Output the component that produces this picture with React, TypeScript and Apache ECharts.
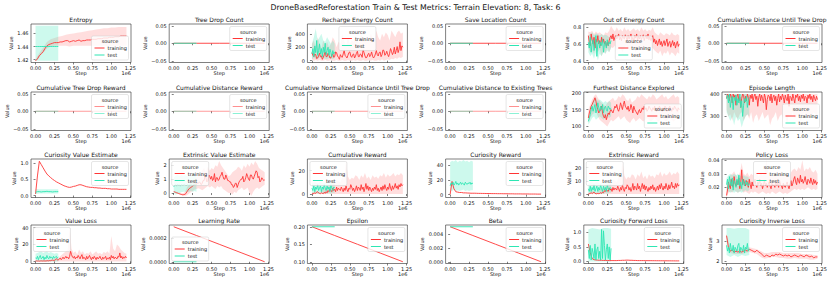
import React, { useEffect, useRef } from 'react';
import * as echarts from 'echarts';

const FONT = '"DejaVu Sans", "Liberation Sans", sans-serif';
const RED = '#ff3535';
const TEAL = '#2ee6b3';
const RED_FILL = 'rgba(255, 60, 60, 0.17)';
const TEAL_FILL = 'rgba(46, 230, 179, 0.24)';
const TEXT = '#111111';

const SUPTITLE = 'DroneBasedReforestation Train & Test Metrics: Terrain Elevation: 8, Task: 6';
const TRAIN_END_STEP = 1200000;
const TEST_END_STEP = 300000;
const X_TICKS = [0, 250000, 500000, 750000, 1000000, 1250000];

// ---------- data ----------
const zeroTicks = [-0.05, 0, 0.05];

const entropyTrain = [1.418,1.421,1.426,1.429,1.432,1.437,1.441,1.443,1.444,1.445,1.446,1.446,1.446,1.447,1.447,1.448,1.449,1.449,1.447,1.448,1.449,1.448,1.449,1.450,1.448,1.449,1.449,1.450,1.450,1.450,1.451,1.451,1.451,1.452,1.452,1.452,1.453,1.453,1.453,1.454,1.454,1.454,1.455,1.455,1.455,1.456,1.456,1.456,1.456];
const entropyTrainLo = [1.417,1.424,1.430,1.437,1.440,1.441,1.441,1.441,1.441,1.440,1.441,1.441,1.441,1.441,1.441,1.441,1.441,1.441,1.441,1.441,1.441,1.441,1.441,1.441,1.441];
const entropyTrainHi = [1.420,1.430,1.438,1.447,1.451,1.453,1.455,1.456,1.458,1.459,1.460,1.461,1.462,1.463,1.464,1.465,1.466,1.467,1.468,1.468,1.469,1.469,1.470,1.470,1.470];
const entropyTest = [1.440,1.440,1.440,1.440,1.440,1.440,1.440,1.440,1.440,1.440,1.440,1.440,1.440];
const entropyTestLo = [1.418,1.418,1.418,1.418,1.418,1.418,1.418];
const entropyTestHi = [1.472,1.472,1.472,1.472,1.472,1.472,1.472];
const entropyTicks = [1.42, 1.44, 1.46];

const treeDropTrain = [0, 0, 0, 0, 0];
const treeDropTest = [0, 0];

const rechargeTrain = [120,80,60,100,90,30,40,70,110,60, 70,20,50,90,130,60,60,110,80,40, 40,90,100,50,60,130,120,70,50,20, 90,60,50,100,150,80,60,40,80,120, 130,70,50,90,100,40,70,110,140,60, 60,100,90,50,160,120,70,40,50,90, 110,60,80,130,70,40,60,100,150,90, 70,120,130,60,90,160,150,80,100,140, 90,60,110,180,140,90,120,200,100,150, 210,120,170,280,150,220,200];
const rechargeTrainLo = [20,0,10,0,10,0,0,10,0,0, 10,0,0,10,0,0,10,0,0,10, 0,0,10,0,10,0,0,10,0,0, 10,0,10,0,0,10,0,20,0,10, 20,10,30,20,40,30,50,40,60];
const rechargeTrainHi = [250,300,200,350,250,180,300,220,280,200, 250,350,300,200,280,250,400,300,220,350, 250,300,280,350,300,250,400,300,350,280, 300,400,350,300,450,350,300,400,350,420, 380,300,450,400,350,420,450,400,420];
const rechargeTest = [100,180,60,220,120,300,80,150,250,100,180,60,200,120,260,90,150,200,80,170,120,60,150,100,130];
const rechargeTestLo = [20,40,30,20,50,30,40,30,20,40,30,20,40];
const rechargeTestHi = [250,350,480,300,350,400,300,280,350,300,250,300,250];
const rechargeTicks = [0, 200, 400];

const saveLocationTrain = [0, 0, 0, 0, 0];
const saveLocationTest = [0, 0];

const outOfEnergyTrain = [0.70,0.62,0.58,0.72,0.65,0.60,0.68,0.55,0.66,0.62, 0.70,0.60,0.64,0.58,0.68,0.62,0.66,0.60,0.63,0.57, 0.62,0.58,0.64,0.68,0.70,0.66,0.72,0.64,0.68,0.70, 0.66,0.69,0.72,0.65,0.68,0.64,0.70,0.67,0.66,0.71, 0.68,0.64,0.70,0.66,0.69,0.72,0.65,0.68,0.63,0.70, 0.67,0.72,0.64,0.69,0.66,0.70,0.65,0.68,0.71,0.64, 0.68,0.70,0.66,0.72,0.65,0.69,0.64,0.67,0.70,0.62, 0.66,0.60,0.64,0.58,0.62,0.66,0.59,0.63,0.57,0.61, 0.64,0.58,0.62,0.66,0.57,0.61,0.63,0.56,0.60,0.64, 0.58,0.62,0.55,0.60,0.63,0.57,0.60];
const outOfEnergyTrainLo = [0.55,0.50,0.52,0.48,0.55,0.50,0.54,0.45,0.52,0.48, 0.55,0.50,0.56,0.55,0.58,0.52,0.56,0.55,0.50,0.56, 0.58,0.55,0.52,0.57,0.55,0.50,0.56,0.58,0.55,0.52, 0.57,0.55,0.50,0.56,0.55,0.52,0.50,0.48,0.52,0.45, 0.50,0.48,0.52,0.46,0.50,0.48,0.45,0.50,0.48];
const outOfEnergyTrainHi = [0.75,0.74,0.76,0.72,0.75,0.73,0.74,0.72,0.70,0.74, 0.73,0.76,0.82,0.78,0.75,0.80,0.76,0.78,0.75,0.80, 0.76,0.78,0.75,0.77,0.79,0.76,0.78,0.75,0.80,0.76, 0.78,0.75,0.77,0.76,0.80,0.74,0.72,0.70,0.74,0.72, 0.70,0.73,0.72,0.70,0.74,0.71,0.70,0.72,0.70];
const outOfEnergyTest = [0.62,0.55,0.68,0.50,0.60,0.65,0.52,0.58,0.70,0.45,0.60,0.64,0.55,0.62,0.58,0.66,0.50,0.60,0.63,0.55,0.65,0.58,0.62,0.60,0.64];
const outOfEnergyTestLo = [0.50,0.45,0.48,0.42,0.50,0.40,0.48,0.45,0.50,0.48,0.52,0.50,0.55];
const outOfEnergyTestHi = [0.70,0.72,0.74,0.70,0.73,0.72,0.70,0.72,0.70,0.71,0.70,0.68,0.70];
const outOfEnergyTicks = [0.4, 0.6, 0.8];

const cumDistUntilTrain = [0, 0, 0, 0, 0];
const cumDistUntilTest = [0, 0];
const cumTreeDropRewardTrain = [0, 0, 0, 0, 0];
const cumTreeDropRewardTest = [0, 0];
const cumDistRewardTrain = [0, 0, 0, 0, 0];
const cumDistRewardTest = [0, 0];
const cumNormDistTrain = [0, 0, 0, 0, 0];
const cumNormDistTest = [0, 0];
const cumDistExistingTrain = [0, 0, 0, 0, 0];
const cumDistExistingTest = [0, 0];

const furthestTrain = [125,140,150,160,165,172,178,185,175,160, 150,140,145,150,160,140,130,125,135,120, 130,140,135,145,150,145,140,150,160,155, 165,150,145,155,170,160,150,165,175,160, 155,150,160,145,150,165,155,140,160,150, 145,140,135,145,150,140,145,155,150,160, 150,155,145,150,160,155,150,145,155,150, 160,150,145,155,150,160,155,150,145,155, 150,160,155,145,150,155,160,150,145,155, 150,160,155,150,145,155,150];
const furthestTrainLo = [110,125,135,140,145,130,120,115,110,105, 100,110,120,115,120,125,130,120,125,130, 120,115,110,120,125,115,120,125,120,115, 120,125,120,115,120,125,120,115,120,125, 120,115,120,125,120,115,120,125,120];
const furthestTrainHi = [150,165,180,190,195,185,175,170,165,160, 170,175,180,185,175,180,190,185,195,190, 180,175,185,170,175,180,190,185,195,190, 185,180,190,185,195,190,180,185,190,195, 185,190,180,185,190,195,185,190,185];
const furthestTest = [115,125,135,150,160,145,155,165,140,150,170,155,145,160,150,165,140,155,160,150,145,160,155,150,155];
const furthestTestLo = [105,115,125,130,120,125,130,125,120,125,130,125,130];
const furthestTestHi = [125,150,170,180,185,175,180,175,170,175,170,175,170];
const furthestTicks = [100, 150, 200];

const episodeTrain = [380,400,395,370,400,390,360,400,385,395, 350,390,400,370,385,340,380,400,395,360, 390,370,400,385,350,395,380,400,365,390, 400,375,390,345,385,400,370,395,380,360, 400,385,330,375,395,390,370,400,360,385, 395,370,390,350,380,400,365,390,375,400, 385,360,395,380,370,400,345,390,385,370, 400,380,360,395,385,400,370,390,365,395, 380,400,370,390,385,360,395,380,400,375, 390,365,395,380,370,390,375];
const episodeTrainLo = [330,300,310,280,320,300,290,310,320,280, 300,310,290,320,270,300,310,280,300,320, 290,300,310,260,290,300,320,280,300,310, 290,300,270,310,300,320,290,300,310,280, 300,320,300,290,310,300,320,310,300];
const episodeTrainHi = [400,400,400,400,400,400,400,400,400,400, 400,400,400,400,400,400,400,400,400,400, 400,400,400,400,400,400,400,400,400,400, 400,400,400,400,400,400,400,400,400,400, 400,400,400,400,400,400,400,400,400];
const episodeTest = [380,395,360,400,340,375,390,330,385,370,395,350,380,360,400,340,370,300,350,380,365,390,340,375,385];
const episodeTestLo = [320,300,280,300,260,300,280,290,250,280,300,310,300];
const episodeTestHi = [400,400,400,400,400,400,400,400,400,400,400,400,400];
const episodeTicks = [300, 400];

const curValueTrain = [0.05,0.60,1.05,0.95,0.85,0.75,0.66,0.60,0.55,0.50,0.46,0.42,0.39,0.36,0.33,0.30,0.28,0.26,0.25,0.26,0.28,0.29,0.31,0.33,0.33,0.31,0.29,0.27,0.26,0.25,0.25,0.24,0.24,0.23,0.23,0.22,0.22,0.22,0.21,0.21,0.20,0.20,0.20,0.20,0.19,0.19,0.19,0.19,0.19];
const curValueTest = [0.10,0.12,0.12,0.11,0.12,0.12,0.13,0.12,0.12,0.11,0.12,0.12,0.12];
const curValueTestLo = [0.05,0.06,0.06,0.06,0.06,0.06,0.06];
const curValueTestHi = [0.20,0.19,0.19,0.19,0.19,0.19,0.19];
const curValueTicks = [0, 0.5, 1.0];

const extValueTrain = [0.10,0.08,0.05,0.02,0.00,-0.03,-0.05,-0.08,-0.10,-0.12, -0.12,-0.10,-0.10,0.00,0.10,0.20,0.30,0.35,0.40,0.45, 0.50,0.55,0.60,0.65,0.65,0.70,0.70,0.80,0.75,0.60, 0.70,0.90,0.90,1.20,1.10,0.80,0.90,1.30,1.20,1.00, 1.20,0.90,1.00,1.40,0.80,1.10,1.10,0.90,1.00,1.20, 1.30,1.50,1.20,1.00,1.00,1.30,1.10,0.90,0.90,0.80, 0.80,0.60,0.60,0.40,0.50,0.70,0.70,0.40,0.60,0.80, 0.90,1.00,1.00,1.20,0.80,0.90,1.10,1.40,1.20,1.00, 0.90,1.30,1.30,1.10,1.00,1.20,1.40,1.60,1.50,1.10, 1.20,0.80,0.90,1.10,1.00,0.90,0.95];
const extValueTrainLo = [0.05,0.02,-0.05,-0.10,-0.15,-0.20,-0.20,-0.15,-0.05,0.05, 0.15,0.25,0.30,0.35,0.30,0.20,0.30,0.40,0.50,0.40, 0.50,0.40,0.30,0.50,0.40,0.50,0.30,0.20,0.10,0.00, 0.00,-0.10,0.10,0.00,0.20,0.30,0.40,0.20,0.30,0.40, 0.00,-0.20,0.10,0.30,0.40,0.30,0.40,0.50,0.60];
const extValueTrainHi = [0.15,0.10,0.05,0.02,0.00,-0.02,0.10,0.40,0.60,0.80, 0.90,1.00,1.10,1.20,1.40,1.60,1.80,1.50,1.90,1.60, 1.80,1.70,2.00,1.90,2.30,2.00,1.80,1.60,1.40,1.20, 1.30,1.50,1.60,1.70,1.90,1.80,1.60,2.00,1.80,2.10, 1.90,2.20,2.00,2.30,2.10,1.80,1.70,1.60,1.50];
const extValueTest = [0.45,0.55,0.60,0.50,0.65,0.55,0.60,0.50,0.62,0.58,0.55,0.65,0.60,0.52,0.58,0.62,0.55,0.60,0.65,0.58,0.55,0.62,0.60,0.58,0.60];
const extValueTestLo = [0.00,-0.10,-0.05,0.00,0.05,0.10,0.10,0.05,0.10,0.15,0.10,0.15,0.10];
const extValueTestHi = [1.10,1.25,1.30,1.20,1.30,1.25,1.30,1.20,1.25,1.30,1.20,1.25,1.20];
const extValueTicks = [0, 1, 2];

const cumRewardTrain = [0,0.5,0.3,1,0.5,1.5,2,1,0.5,0.3, 1,0.5,0.3,1.5,0.5,2,1,3,2,4, 3,2,5,3,4,2,6,3,5,4, 3,6,4,2,5,3,7,4,2,5, 4,8,6,3,5,2,4,7,3,6, 5,3,8,4,6,2,5,9,4,7, 3,6,4,2,5,3,6,4,8,3, 5,2,4,6,3,7,4,8,5,3, 6,4,9,5,3,7,4,6,9,5, 7,4,8,6,9,7,8];
const cumRewardTrainLo = [0,0,0,0,0,0,0,0,0,0, 0,0,0,0,0,0,0,0,0,0, 0,0,0,0,0,0,0,0,0,0, 0,0,0,0,0,0,0,0,0,0, 0,0,0,0,0,0,0,0,0];
const cumRewardTrainHi = [1,2,3,2,1,3,4,6,5,8, 7,10,9,12,11,10,14,13,28,15, 12,14,13,16,15,12,16,14,18,13, 15,12,16,14,15,13,16,15,18,14, 17,15,16,18,15,17,16,18,16];
const cumRewardTest = [5,3,7,2,6,4,8,3,5,7,2,6,4,8,5,3,7,4,6,2,8,5,3,6,5];
const cumRewardTestLo = [1,0,1,0,0,1,0,1,0,1,0,1,1];
const cumRewardTestHi = [9,10,10,9,10,10,9,10,10,9,10,9,9];
const cumRewardTicks = [0, 20];

const curRewardTrain = [0.5,18,8,4,3.5,3,3,2.5,2.5,2.3,2.2,2,2,2,1.9,1.8,1.8,1.7,1.7,1.6,1.6,1.6,1.5,1.5,1.5,1.4,1.4,1.4,1.3,1.3,1.3,1.2,1.2,1.2,1.1,1.1,1.1,1.1,1.0,1.0,1.0,1.0,0.9,0.9,0.9,0.9,0.8,0.8,0.8];
const curRewardTest = [12,16,14,17,13,15,18,14,16,13,15,17,14,16,15,13,17,15,14,16,15,17,14,16,15];
const curRewardTestLo = [6,5,7,5,6,5,6,7,5,6,5,6,6];
const curRewardTestHi = [44,46,45,47,44,46,45,47,45,46,44,46,45];
const curRewardTicks = [0, 20, 40];

const extRewardTrain = [0,0.3,0.5,1,0.3,1,1.5,0.5,0.3,0.2, 0.5,0.3,0.5,1,0.5,1.5,1,2.5,2,3.5, 2.5,2,4.5,3,4,2,5,3,4.5,4, 3,6,4,2,5,3,7,4,2,5, 4,7,6,3,5,2,4,8,3,6, 5,3,8,4,6,2,5,8,4,7, 3,6,4,2,5,3,6,4,7,3, 5,2,4,6,3,7,4,8,5,3, 6,4,8,5,3,7,4,6,9,5, 6,4,8,5,8,6,7];
const extRewardTrainLo = [0,0,0,0,0,0,0,0,0,0, 0,0,0,0,0,0,0,0,0,0, 0,0,0,0,0,0,0,0,0,0, 0,0,0,0,0,0,0,0,0,0, 0,0,0,0,0,0,0,0,0];
const extRewardTrainHi = [1,2,3,2,1,2,3,5,4,7, 6,9,8,11,10,9,13,12,25,14, 11,13,12,15,14,11,15,13,17,12, 14,11,15,13,14,12,15,14,17,13, 16,14,15,17,14,16,15,17,15];
const extRewardTest = [4,2,6,2,5,3,7,2,4,6,2,5,3,7,4,2,6,3,5,2,7,4,3,5,4];
const extRewardTestLo = [0,0,1,0,0,1,0,0,0,1,0,1,1];
const extRewardTestHi = [8,9,9,8,9,9,8,9,9,8,9,8,8];
const extRewardTicks = [0, 10, 20];

const policyTrain = [0.014,0.018,0.024,0.021,0.019,0.026,0.022,0.020,0.028,0.023, 0.021,0.025,0.022,0.027,0.019,0.024,0.033,0.022,0.026,0.023, 0.021,0.025,0.024,0.020,0.026,0.022,0.019,0.024,0.021,0.023, 0.026,0.022,0.020,0.024,0.022,0.026,0.021,0.023,0.019,0.022, 0.025,0.021,0.023,0.020,0.022,0.024,0.021,0.019,0.023,0.021, 0.022,0.020,0.024,0.021,0.023,0.020,0.025,0.022,0.021,0.019, 0.023,0.021,0.020,0.022,0.024,0.021,0.019,0.022,0.025,0.021, 0.023,0.026,0.028,0.024,0.022,0.027,0.025,0.023,0.029,0.024, 0.026,0.023,0.025,0.028,0.024,0.022,0.026,0.025,0.023,0.027, 0.024,0.022,0.026,0.023,0.025,0.022,0.024];
const policyTrainLo = [0.012,0.016,0.017,0.016,0.018,0.017,0.016,0.017,0.018,0.016, 0.017,0.016,0.015,0.017,0.016,0.017,0.016,0.015,0.016,0.017, 0.016,0.015,0.016,0.015,0.017,0.016,0.015,0.016,0.017,0.016, 0.015,0.016,0.015,0.016,0.017,0.018,0.019,0.018,0.019,0.018, 0.019,0.018,0.019,0.020,0.019,0.018,0.019,0.018,0.019];
const policyTrainHi = [0.018,0.026,0.029,0.030,0.032,0.029,0.027,0.031,0.038,0.030, 0.029,0.031,0.028,0.030,0.029,0.032,0.030,0.028,0.031,0.029, 0.030,0.040,0.031,0.029,0.030,0.028,0.031,0.029,0.030,0.032, 0.029,0.031,0.030,0.028,0.031,0.033,0.034,0.032,0.035,0.033, 0.040,0.032,0.034,0.033,0.035,0.032,0.031,0.033,0.030];
const policyTest = [0.022,0.026,0.019,0.028,0.024,0.021,0.027,0.018,0.025,0.023,0.020,0.026,0.022,0.029,0.021,0.024,0.019,0.026,0.023,0.021,0.025,0.022,0.024,0.021,0.023];
const policyTestLo = [0.018,0.017,0.016,0.017,0.016,0.017,0.016,0.017,0.016,0.017,0.018,0.017,0.018];
const policyTestHi = [0.027,0.029,0.030,0.029,0.030,0.029,0.030,0.029,0.028,0.029,0.028,0.028,0.027];
const policyTicks = [0.02, 0.03, 0.04];

const valueLossTrain = [0.5,0.6,0.4,0.5,0.3,0.5,0.6,0.4,0.5,0.6, 0.4,0.5,0.6,0.8,0.5,1,0.8,1.2,1.5,1, 1.2,2,3,2,1.5,3,4,2,3,5, 3,4,6,4,5,3,6,12,8,5, 4,6,3,5,4,7,5,3,6,8, 3,5,4,2,6,3,5,7,4,2, 5,3,6,4,2,5,3,4,6,3, 2,5,3,4,6,2,4,3,5,2, 7,4,6,3,5,4,3,6,5,10, 4,6,3,5,4,6,4];
const valueLossTrainLo = [0,0,0,0,0,0,0,0,0,0, 0,0,0,0,0,0,0,0,0,0, 0,0,0,0,0,0,0,0,0,0, 0,0,0,0,0,0,0,0,0,0, 0,0,0,0,0,0,0,0,0];
const valueLossTrainHi = [1,1,1,1,1,1,1.5,2,2,3, 3,5,4,6,8,10,12,14,40,15, 10,12,8,14,10,12,8,10,9,12, 8,10,12,9,10,8,11,10,12,9, 30,15,12,20,18,14,12,10,9];
const valueLossTest = [4,3,6,2,5,7,3,4,6,2,5,3,7,4,3,6,4,5,3,6,4,5,6,4,5];
const valueLossTestLo = [0,0,0,0,0,0,0,0,0,0,0,0,0];
const valueLossTestHi = [9,10,11,12,10,11,12,10,11,10,9,10,9];
const valueLossTicks = [0, 20, 40];

const lrTrain = [0.0003, 0.000225, 0.00015, 0.000075, 0.0];
const lrTest = [0, 0];
const lrTicks = [0, 0.0002];

const epsilonTrain = [0.2, 0.175, 0.15, 0.125, 0.1];
const epsilonTest = [0.2, 0.2];
const epsilonTicks = [0.10, 0.15, 0.20];

const betaTrain = [0.005, 0.00375, 0.0025, 0.00125, 0.0];
const betaTest = [0.005, 0.005];
const betaTicks = [0, 0.002, 0.004];

const fwdLossTrain = [0.60,0.30,0.10,0.06,0.05,0.045,0.04,0.04,0.035,0.035,0.035,0.03,0.03,0.03,0.03,0.03,0.035,0.035,0.04,0.04,0.045,0.045,0.04,0.04,0.035,0.035,0.03,0.03,0.03,0.03,0.028,0.028,0.027,0.027,0.026,0.026,0.025,0.025,0.024,0.024,0.023,0.023,0.022,0.022,0.021,0.021,0.02,0.02,0.02];
const fwdLossTest = [0.40,0.10,0.55,0.05,0.45,0.30,0.10,0.60,0.05,0.40,0.50,0.10,0.35,0.05,1.10,0.10,1.05,0.55,0.05,0.40,0.60,0.10,0.50,0.05,0.45];
const fwdLossTestLo = [0,0,0,0,0,0,0];
const fwdLossTestHi = [1.10,1.15,1.12,1.10,1.15,1.15,1.12];
const fwdLossTicks = [0, 0.5, 1.0];

const invLossTrain = [3.30,2.70,2.50,2.55,2.45,2.50,2.45,2.50,2.45,2.50,2.55,2.50,2.60,2.55,2.50,2.45,2.55,2.45,2.40,2.30,2.20,2.30,2.25,2.20,2.30,2.25,2.35,2.30,2.35,2.30,2.25,2.30,2.25,2.30,2.20,2.25,2.30,2.25,2.20,2.30,2.25,2.20,2.30,2.25,2.20,2.25,2.15,2.20,2.20];
const invLossTrainLo = [3.20,2.40,2.35,2.35,2.35,2.40,2.45,2.40,2.35,2.20,2.10,2.15,2.20,2.20,2.15,2.15,2.10,2.10,2.15,2.10,2.10,2.10,2.05,2.05,2.10];
const invLossTrainHi = [3.40,2.65,2.60,2.60,2.60,2.65,2.70,2.65,2.60,2.50,2.40,2.40,2.45,2.45,2.45,2.40,2.40,2.40,2.40,2.40,2.35,2.35,2.35,2.30,2.30];
const invLossTest = [2.80,2.50,2.70,2.40,2.90,2.60,2.50,2.80,2.40,2.70,2.60,2.50,2.80,2.90,2.40,2.70,2.60,2.50,2.80,2.40,2.70,2.60,2.90,2.50,2.60];
const invLossTestLo = [2.30,2.20,2.30,2.20,2.30,2.25,2.30];
const invLossTestHi = [3.70,3.70,3.65,3.70,3.70,3.70,3.60];
const invLossTicks = [2, 3];

// ---------- panel definitions ----------
type Panel = {
  title: string;
  train: number[];
  test: number[];
  trainLo?: number[];
  trainHi?: number[];
  testLo?: number[];
  testHi?: number[];
  y: [number, number];
  ticks: number[];
  dec: number;
  legend: string;
  faded?: boolean;
};

const ZR: [number, number] = [-0.055, 0.055];

const PANELS: Panel[] = [
  { title: 'Entropy', train: entropyTrain, test: entropyTest, trainLo: entropyTrainLo, trainHi: entropyTrainHi, testLo: entropyTestLo, testHi: entropyTestHi, y: [1.4155, 1.4745], ticks: entropyTicks, dec: 2, legend: 'lr' },
  { title: 'Tree Drop Count', train: treeDropTrain, test: treeDropTest, y: ZR, ticks: zeroTicks, dec: 2, legend: 'ur' },
  { title: 'Recharge Energy Count', train: rechargeTrain, test: rechargeTest, trainLo: rechargeTrainLo, trainHi: rechargeTrainHi, testLo: rechargeTestLo, testHi: rechargeTestHi, y: [-27, 545], ticks: rechargeTicks, dec: 0, legend: 'uc' },
  { title: 'Save Location Count', train: saveLocationTrain, test: saveLocationTest, y: ZR, ticks: zeroTicks, dec: 2, legend: 'ur' },
  { title: 'Out of Energy Count', train: outOfEnergyTrain, test: outOfEnergyTest, trainLo: outOfEnergyTrainLo, trainHi: outOfEnergyTrainHi, testLo: outOfEnergyTestLo, testHi: outOfEnergyTestHi, y: [0.376, 0.84], ticks: outOfEnergyTicks, dec: 1, legend: 'lc' },
  { title: 'Cumulative Distance Until Tree Drop', train: cumDistUntilTrain, test: cumDistUntilTest, y: ZR, ticks: zeroTicks, dec: 2, legend: 'ur' },

  { title: 'Cumulative Tree Drop Reward', train: cumTreeDropRewardTrain, test: cumTreeDropRewardTest, y: ZR, ticks: zeroTicks, dec: 2, legend: 'ur', faded: true },
  { title: 'Cumulative Distance Reward', train: cumDistRewardTrain, test: cumDistRewardTest, y: ZR, ticks: zeroTicks, dec: 2, legend: 'ur', faded: true },
  { title: 'Cumulative Normalized Distance Until Tree Drop', train: cumNormDistTrain, test: cumNormDistTest, y: ZR, ticks: zeroTicks, dec: 2, legend: 'ur', faded: true },
  { title: 'Cumulative Distance to Existing Trees', train: cumDistExistingTrain, test: cumDistExistingTest, y: ZR, ticks: zeroTicks, dec: 2, legend: 'ur', faded: true },
  { title: 'Furthest Distance Explored', train: furthestTrain, test: furthestTest, trainLo: furthestTrainLo, trainHi: furthestTrainHi, testLo: furthestTestLo, testHi: furthestTestHi, y: [88, 202], ticks: furthestTicks, dec: 0, legend: 'lr' },
  { title: 'Episode Length', train: episodeTrain, test: episodeTest, trainLo: episodeTrainLo, trainHi: episodeTrainHi, testLo: episodeTestLo, testHi: episodeTestHi, y: [237, 409], ticks: episodeTicks, dec: 0, legend: 'lr' },

  { title: 'Curiosity Value Estimate', train: curValueTrain, test: curValueTest, testLo: curValueTestLo, testHi: curValueTestHi, y: [-0.06, 1.12], ticks: curValueTicks, dec: 1, legend: 'ur' },
  { title: 'Extrinsic Value Estimate', train: extValueTrain, test: extValueTest, trainLo: extValueTrainLo, trainHi: extValueTrainHi, testLo: extValueTestLo, testHi: extValueTestHi, y: [-0.32, 2.45], ticks: extValueTicks, dec: 0, legend: 'ul' },
  { title: 'Cumulative Reward', train: cumRewardTrain, test: cumRewardTest, trainLo: cumRewardTrainLo, trainHi: cumRewardTrainHi, testLo: cumRewardTestLo, testHi: cumRewardTestHi, y: [-3, 30], ticks: cumRewardTicks, dec: 0, legend: 'ul' },
  { title: 'Curiosity Reward', train: curRewardTrain, test: curRewardTest, testLo: curRewardTestLo, testHi: curRewardTestHi, y: [-3.8, 48.5], ticks: curRewardTicks, dec: 0, legend: 'ur' },
  { title: 'Extrinsic Reward', train: extRewardTrain, test: extRewardTest, trainLo: extRewardTrainLo, trainHi: extRewardTrainHi, testLo: extRewardTestLo, testHi: extRewardTestHi, y: [-2.6, 26.5], ticks: extRewardTicks, dec: 0, legend: 'ul' },
  { title: 'Policy Loss', train: policyTrain, test: policyTest, trainLo: policyTrainLo, trainHi: policyTrainHi, testLo: policyTestLo, testHi: policyTestHi, y: [0.0125, 0.041], ticks: policyTicks, dec: 2, legend: 'uc' },

  { title: 'Value Loss', train: valueLossTrain, test: valueLossTest, trainLo: valueLossTrainLo, trainHi: valueLossTrainHi, testLo: valueLossTestLo, testHi: valueLossTestHi, y: [-2.5, 43], ticks: valueLossTicks, dec: 0, legend: 'ul' },
  { title: 'Learning Rate', train: lrTrain, test: lrTest, y: [-0.000015, 0.000315], ticks: lrTicks, dec: 4, legend: 'll' },
  { title: 'Epsilon', train: epsilonTrain, test: epsilonTest, y: [0.095, 0.205], ticks: epsilonTicks, dec: 2, legend: 'ur' },
  { title: 'Beta', train: betaTrain, test: betaTest, y: [-0.00025, 0.00525], ticks: betaTicks, dec: 3, legend: 'ur' },
  { title: 'Curiosity Forward Loss', train: fwdLossTrain, test: fwdLossTest, testLo: fwdLossTestLo, testHi: fwdLossTestHi, y: [-0.07, 1.25], ticks: fwdLossTicks, dec: 1, legend: 'ur' },
  { title: 'Curiosity Inverse Loss', train: invLossTrain, test: invLossTest, trainLo: invLossTrainLo, trainHi: invLossTrainHi, testLo: invLossTestLo, testHi: invLossTestHi, y: [1.86, 3.85], ticks: invLossTicks, dec: 0, legend: 'ur' },
];

// ---------- layout ----------
const COL_LEFT = [31, 169.2, 307.4, 445.6, 583.8, 722];
const ROW_TOP = [24, 92, 159, 225];
const GW = 100;
const GH = 38.5;
const LW = 37;
const LH = 24;
const LP = 2.5;
const TICK_FS = 5;

function stepsFor(n: number, end: number): number[] {
  const out: number[] = [];
  for (let k = 0; k < n; k++) out.push(n === 1 ? 0 : (k * end) / (n - 1));
  return out;
}

function pairs(values: number[], end: number): number[][] {
  const xs = stepsFor(values.length, end);
  return values.map((v, k) => [xs[k], v]);
}

function fmt(dec: number) {
  return (v: number) => {
    const s = Math.abs(v) < 1e-12 ? (0).toFixed(dec) : v.toFixed(dec);
    return s.replace('-', '\u2212');
  };
}

function labelWidth(s: string): number {
  let w = 0;
  for (const ch of s) {
    if (ch === '.') w += 0.318;
    else if (ch === '\u2212') w += 0.838;
    else w += 0.636;
  }
  return w * TICK_FS;
}

function band(i: number, lo: number[], hi: number[], end: number, fill: string) {
  const xs = stepsFor(lo.length, end);
  return {
    type: 'custom',
    xAxisIndex: i,
    yAxisIndex: i,
    silent: true,
    clip: true,
    data: [[xs[0], lo[0]]],
    renderItem: (_p: any, api: any) => {
      const pts: number[][] = [];
      for (let k = 0; k < xs.length; k++) pts.push(api.coord([xs[k], hi[k]]));
      for (let k = xs.length - 1; k >= 0; k--) pts.push(api.coord([xs[k], lo[k]]));
      return { type: 'polygon', shape: { points: pts }, style: { fill } };
    },
  };
}

function legendPos(kind: string, left: number, top: number): [number, number] {
  const right = left + GW;
  const bottom = top + GH;
  switch (kind) {
    case 'lr': return [right - LP - LW, bottom - LP - LH];
    case 'ul': return [left + LP, top + LP];
    case 'll': return [left + LP, bottom - LP - LH];
    case 'uc': return [left + GW / 2 - LW / 2, top + LP];
    case 'lc': return [left + GW / 2 - LW / 2, bottom - LP - LH];
    default: return [right - LP - LW, top + LP];
  }
}

function buildOption() {
  const grid: any[] = [];
  const xAxis: any[] = [];
  const yAxis: any[] = [];
  const series: any[] = [];
  const title: any[] = [
    {
      text: SUPTITLE,
      left: 415.5,
      top: 3,
      textAlign: 'center',
      padding: 0,
      textStyle: { fontFamily: FONT, fontSize: 7.8, fontWeight: 'normal', color: TEXT },
    },
  ];
  const graphic: any[] = [];

  PANELS.forEach((p, i) => {
    const r = Math.floor(i / 6);
    const c = i % 6;
    const left = COL_LEFT[c];
    const top = ROW_TOP[r];
    const yFmt = fmt(p.dec);
    const maxLab = Math.max(...p.ticks.map((t) => labelWidth(yFmt(t))));
    const alpha = p.faded ? 0.55 : 1;

    grid.push({
      left, top, width: GW, height: GH,
      show: true, borderColor: '#2a2a2a', borderWidth: 0.6, backgroundColor: 'transparent',
    });

    xAxis.push({
      type: 'value', gridIndex: i, min: -60000, max: 1260000,
      splitLine: { show: false },
      axisLine: { show: false },
      axisTick: { show: true, length: 2, customValues: X_TICKS, lineStyle: { color: '#2a2a2a', width: 0.6 } },
      axisLabel: {
        customValues: X_TICKS, fontSize: TICK_FS, margin: 2.5, color: TEXT, fontFamily: FONT,
        formatter: (v: number) => (v / 1e6).toFixed(2),
      },
      name: 'Step', nameLocation: 'middle', nameGap: 8,
      nameTextStyle: { fontSize: TICK_FS, color: TEXT, fontFamily: FONT },
    });

    yAxis.push({
      type: 'value', gridIndex: i, min: p.y[0], max: p.y[1],
      splitLine: { show: false },
      axisLine: { show: false },
      axisTick: { show: true, length: 2, customValues: p.ticks, lineStyle: { color: '#2a2a2a', width: 0.6 } },
      axisLabel: { customValues: p.ticks, fontSize: TICK_FS, margin: 2.5, color: TEXT, fontFamily: FONT, formatter: yFmt },
      name: 'Value', nameLocation: 'middle', nameRotate: 90, nameGap: maxLab + 4.5,
      nameTextStyle: { fontSize: TICK_FS, color: TEXT, fontFamily: FONT },
    });

    title.push({
      text: p.title,
      left: left + GW / 2,
      top: top - 8,
      textAlign: 'center',
      padding: 0,
      textStyle: { fontFamily: FONT, fontSize: 6, fontWeight: 'normal', color: TEXT },
    });

    if (p.trainLo && p.trainHi) series.push(band(i, p.trainLo, p.trainHi, TRAIN_END_STEP, RED_FILL));
    if (p.testLo && p.testHi) series.push(band(i, p.testLo, p.testHi, TEST_END_STEP, TEAL_FILL));

    series.push({
      type: 'line', name: 'training', xAxisIndex: i, yAxisIndex: i,
      data: pairs(p.train, TRAIN_END_STEP), showSymbol: false, symbol: 'none',
      lineStyle: { color: RED, width: 0.9, opacity: alpha }, itemStyle: { color: RED },
    });
    series.push({
      type: 'line', name: 'test', xAxisIndex: i, yAxisIndex: i,
      data: pairs(p.test, TEST_END_STEP), showSymbol: false, symbol: 'none',
      lineStyle: { color: TEAL, width: 0.9, opacity: alpha }, itemStyle: { color: TEAL },
    });

    const [lx, ly] = legendPos(p.legend, left, top);
    graphic.push({
      type: 'group', x: lx, y: ly, z: 100,
      children: [
        { type: 'rect', z: 100, shape: { x: 0, y: 0, width: LW, height: LH, r: 1.5 }, style: { fill: 'rgba(255,255,255,0.8)', stroke: '#cccccc', lineWidth: 0.5 } },
        { type: 'text', z: 101, x: LW / 2, y: 5, style: { text: 'source', fontSize: 5, fontFamily: FONT, fill: TEXT, align: 'center', verticalAlign: 'middle' } },
        { type: 'line', z: 101, shape: { x1: 3, y1: 12, x2: 13, y2: 12 }, style: { stroke: RED, lineWidth: 1, opacity: alpha } },
        { type: 'text', z: 101, x: 16, y: 12, style: { text: 'training', fontSize: 5, fontFamily: FONT, fill: TEXT, align: 'left', verticalAlign: 'middle' } },
        { type: 'line', z: 101, shape: { x1: 3, y1: 19, x2: 13, y2: 19 }, style: { stroke: TEAL, lineWidth: 1, opacity: alpha } },
        { type: 'text', z: 101, x: 16, y: 19, style: { text: 'test', fontSize: 5, fontFamily: FONT, fill: TEXT, align: 'left', verticalAlign: 'middle' } },
      ],
    });

    graphic.push({
      type: 'text', z: 100, x: left + GW, y: top + GH + 10.5,
      style: { text: '1e6', fontSize: 5, fontFamily: FONT, fill: TEXT, align: 'right', verticalAlign: 'middle' },
    });
  });

  return {
    animation: false,
    backgroundColor: '#ffffff',
    textStyle: { fontFamily: FONT },
    title,
    grid,
    xAxis,
    yAxis,
    series,
    graphic,
  };
}

export default function App() {
  const ref = useRef<HTMLDivElement>(null);
  useEffect(() => {
    document.body.style.margin = '0';
    if (!ref.current) return;
    const chart = echarts.init(ref.current, null, { renderer: 'svg' });
    chart.setOption(buildOption() as any);
    return () => chart.dispose();
  }, []);
  return <div ref={ref} style={{ width: 831, height: 283 }} />;
}
